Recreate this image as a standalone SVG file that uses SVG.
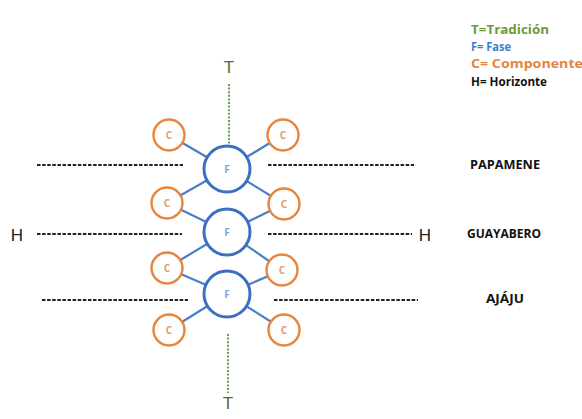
<svg xmlns="http://www.w3.org/2000/svg" width="582" height="419" viewBox="0 0 582 419">
<style>
.c{fill:#fff;stroke:#e8843c;stroke-width:2.4}
.f{fill:#fff;stroke:#3b6fc2;stroke-width:3}
.ct{font-family:"Open Sans","Liberation Sans",Arial,sans-serif;font-size:10px;font-weight:bold;fill:#e59a6a;text-anchor:middle}
.ft{font-family:"Open Sans","Liberation Sans",Arial,sans-serif;font-size:10px;font-weight:bold;fill:#7aa4d8;text-anchor:middle}
.ln{stroke:#4a7fc8;stroke-width:2.2}
.hd{stroke:#222;stroke-width:1.9;stroke-dasharray:3.5 1.6;fill:none}
.vd{stroke:#5f9a4a;stroke-width:1.9;stroke-dasharray:2 1.6;fill:none}
.lg{font-family:"Open Sans","Liberation Sans",Arial,sans-serif;font-size:12px;font-weight:bold}
.lb{font-family:"Open Sans","Liberation Sans",Arial,sans-serif;font-size:12px;font-weight:bold;fill:#111;text-anchor:middle}
.big{font-family:"Liberation Sans",Arial,sans-serif;font-size:17px;text-anchor:middle}
</style>
<rect width="582" height="419" fill="#fff"/>
<g id="legend">
<text class="lg" x="471" y="34" fill="#6a9a3c" textLength="78" lengthAdjust="spacingAndGlyphs">T=Tradición</text>
<text class="lg" x="471" y="51" fill="#3e7fc9" textLength="40" lengthAdjust="spacingAndGlyphs">F= Fase</text>
<text class="lg" x="471" y="68" fill="#e8843c" textLength="112" lengthAdjust="spacingAndGlyphs">C= Componente</text>
<text class="lg" x="471" y="86" fill="#111" textLength="76" lengthAdjust="spacingAndGlyphs">H= Horizonte</text>
</g>
<g id="connectors">
<line class="vd" x1="229" y1="84" x2="229" y2="145"/>
<line class="vd" x1="228" y1="334" x2="228" y2="393"/>
<line class="hd" x1="37" y1="165" x2="183" y2="165"/>
<line class="hd" x1="268" y1="165" x2="414" y2="165"/>
<line class="hd" x1="37" y1="234" x2="182" y2="234"/>
<line class="hd" x1="268" y1="234" x2="412" y2="234"/>
<line class="hd" x1="42" y1="300" x2="188" y2="300"/>
<line class="hd" x1="274" y1="300" x2="418" y2="300"/>
<line class="ln" x1="169" y1="135" x2="227" y2="169"/>
<line class="ln" x1="283" y1="135" x2="227" y2="169"/>
<line class="ln" x1="227" y1="169" x2="167" y2="203"/>
<line class="ln" x1="227" y1="169" x2="284" y2="204"/>
<line class="ln" x1="167" y1="203" x2="227" y2="232"/>
<line class="ln" x1="284" y1="204" x2="227" y2="232"/>
<line class="ln" x1="227" y1="232" x2="167" y2="268"/>
<line class="ln" x1="227" y1="232" x2="282" y2="270"/>
<line class="ln" x1="167" y1="268" x2="227" y2="294"/>
<line class="ln" x1="282" y1="270" x2="227" y2="294"/>
<line class="ln" x1="227" y1="294" x2="169" y2="330"/>
<line class="ln" x1="227" y1="294" x2="284" y2="330"/>
</g>
<g id="T-top"><text class="big" x="229" y="73" fill="#4f6a45">T</text></g>
<g id="T-bottom"><text class="big" x="228" y="409" fill="#4f6a45">T</text></g>
<g id="H-left"><text class="big" x="17" y="241" fill="#222">H</text></g>
<g id="H-right"><text class="big" x="425" y="241" fill="#222">H</text></g>
<g id="F1"><circle class="f" cx="227" cy="169" r="23"/><text class="ft" x="227" y="173">F</text></g>
<g id="F2"><circle class="f" cx="227" cy="232" r="23"/><text class="ft" x="227" y="236">F</text></g>
<g id="F3"><circle class="f" cx="227" cy="294" r="23"/><text class="ft" x="227" y="298">F</text></g>
<g id="C1L"><circle class="c" cx="169" cy="135" r="15.5"/><text class="ct" x="169" y="139">C</text></g>
<g id="C1R"><circle class="c" cx="283" cy="135" r="15.5"/><text class="ct" x="283" y="139">C</text></g>
<g id="C2L"><circle class="c" cx="167" cy="203" r="15.5"/><text class="ct" x="167" y="207">C</text></g>
<g id="C2R"><circle class="c" cx="284" cy="204" r="15.5"/><text class="ct" x="284" y="208">C</text></g>
<g id="C3L"><circle class="c" cx="167" cy="268" r="15.5"/><text class="ct" x="167" y="272">C</text></g>
<g id="C3R"><circle class="c" cx="282" cy="270" r="15.5"/><text class="ct" x="282" y="274">C</text></g>
<g id="C4L"><circle class="c" cx="169" cy="330" r="15.5"/><text class="ct" x="169" y="334">C</text></g>
<g id="C4R"><circle class="c" cx="284" cy="330" r="15.5"/><text class="ct" x="284" y="334">C</text></g>
<g id="labels">
<text class="lb" x="505" y="169" textLength="70" lengthAdjust="spacingAndGlyphs">PAPAMENE</text>
<text class="lb" x="504" y="238" textLength="74" lengthAdjust="spacingAndGlyphs">GUAYABERO</text>
<text class="lb" x="505" y="303" textLength="38" lengthAdjust="spacingAndGlyphs">AJÁJU</text>
</g>
</svg>
